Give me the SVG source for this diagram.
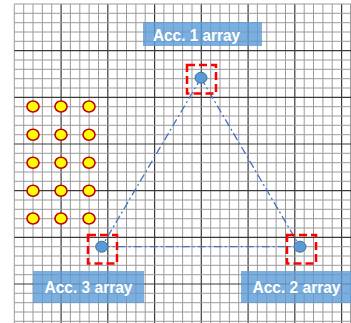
<svg xmlns="http://www.w3.org/2000/svg" width="351" height="323" viewBox="0 0 351 323">
<style>
.minor{stroke:#9a9a9a;stroke-width:1;fill:none}
.major{stroke:#3a3a3a;stroke-width:1.2;fill:none}
.lbl{fill:#5b9bd5;fill-opacity:0.8}
.lt{font-family:"Liberation Sans",Arial,sans-serif;font-weight:bold;font-size:17px;fill:#ffffff}
.yel{fill:#ffff00;stroke:#c00000;stroke-width:1.6}
.dot{fill:#5b9bd5;stroke:#41719c;stroke-width:1}
.sel{fill:none;stroke:#ff0000;stroke-width:2.5;stroke-dasharray:8,4}
.conn{stroke:#4472c4;stroke-width:1.3;fill:none;stroke-dasharray:8,3,2,3}
</style>
<rect width="351" height="323" fill="#ffffff"/>
<g id="grid">
<path class="minor" d="M14.3 4V323M23.7 4V323M33 4V323M42.4 4V323M51.7 4V323M70.4 4V323M79.8 4V323M89.1 4V323M98.5 4V323M117.2 4V323M126.5 4V323M135.9 4V323M145.2 4V323M163.9 4V323M173.3 4V323M182.6 4V323M192 4V323M210.7 4V323M220 4V323M229.4 4V323M238.7 4V323M257.4 4V323M266.8 4V323M276.1 4V323M285.5 4V323M304.2 4V323M313.5 4V323M322.9 4V323M332.2 4V323M350.5 4V323"/>
<path class="major" d="M61.1 4V323M107.8 4V323M154.6 4V323M201.3 4V323M248.1 4V323M294.8 4V323M341.6 4V323"/>
<path class="minor" d="M14.3 4H351M14.3 13.3H351M14.3 22.7H351M14.3 32H351M14.3 41.3H351M14.3 60H351M14.3 69.3H351M14.3 78.7H351M14.3 88H351M14.3 106.7H351M14.3 116H351M14.3 125.3H351M14.3 134.7H351M14.3 153.3H351M14.3 162.7H351M14.3 172H351M14.3 181.3H351M14.3 200H351M14.3 209.3H351M14.3 218.7H351M14.3 228H351M14.3 246.7H351M14.3 256H351M14.3 265.3H351M14.3 274.7H351M14.3 293.3H351M14.3 302.7H351M14.3 312H351M14.3 321.3H351"/>
<path class="major" d="M14.3 50.7H351M14.3 97.3H351M14.3 144H351M14.3 190.7H351M14.3 237.3H351M14.3 284H351"/>
</g>
<g id="sensors">
<ellipse class="yel" cx="33" cy="106.5" rx="6" ry="5.5"/>
<ellipse class="yel" cx="61" cy="106.5" rx="6" ry="5.5"/>
<ellipse class="yel" cx="89" cy="106.5" rx="6" ry="5.5"/>
<ellipse class="yel" cx="33" cy="134.7" rx="6" ry="5.5"/>
<ellipse class="yel" cx="61" cy="134.7" rx="6" ry="5.5"/>
<ellipse class="yel" cx="89" cy="134.7" rx="6" ry="5.5"/>
<ellipse class="yel" cx="33" cy="162.7" rx="6" ry="5.5"/>
<ellipse class="yel" cx="61" cy="162.7" rx="6" ry="5.5"/>
<ellipse class="yel" cx="89" cy="162.7" rx="6" ry="5.5"/>
<ellipse class="yel" cx="33" cy="190.7" rx="6" ry="5.5"/>
<ellipse class="yel" cx="61" cy="190.7" rx="6" ry="5.5"/>
<ellipse class="yel" cx="89" cy="190.7" rx="6" ry="5.5"/>
<ellipse class="yel" cx="33" cy="218.5" rx="6" ry="5.5"/>
<ellipse class="yel" cx="61" cy="218.5" rx="6" ry="5.5"/>
<ellipse class="yel" cx="89" cy="218.5" rx="6" ry="5.5"/>
</g>
<g id="connectors">
<path class="conn" d="M201 78L101.7 246.7"/>
<path class="conn" d="M201 78L300 246.7"/>
<path class="conn" d="M101.7 246.7H300"/>
</g>
<g id="acc1">
<rect class="sel" x="187" y="65" width="29" height="28.5"/>
<ellipse class="dot" cx="201" cy="77.7" rx="6" ry="5.5"/>
<rect class="lbl" x="143" y="22" width="119" height="24"/>
<text class="lt" x="153" y="41" textLength="87" lengthAdjust="spacingAndGlyphs" style="font-size:16px">Acc. 1 array</text>
</g>
<g id="acc3">
<rect class="sel" x="88" y="235" width="29" height="28.5"/>
<ellipse class="dot" cx="101.7" cy="246.7" rx="6" ry="5.5"/>
<rect class="lbl" x="33" y="271" width="111" height="32"/>
<text class="lt" x="44.5" y="293" textLength="88" lengthAdjust="spacingAndGlyphs">Acc. 3 array</text>
</g>
<g id="acc2">
<rect class="sel" x="287" y="235" width="29" height="28.5"/>
<ellipse class="dot" cx="300" cy="246.7" rx="6" ry="5.5"/>
<rect class="lbl" x="241" y="271" width="110" height="32"/>
<text class="lt" x="252.5" y="293" textLength="88" lengthAdjust="spacingAndGlyphs">Acc. 2 array</text>
</g>
</svg>
